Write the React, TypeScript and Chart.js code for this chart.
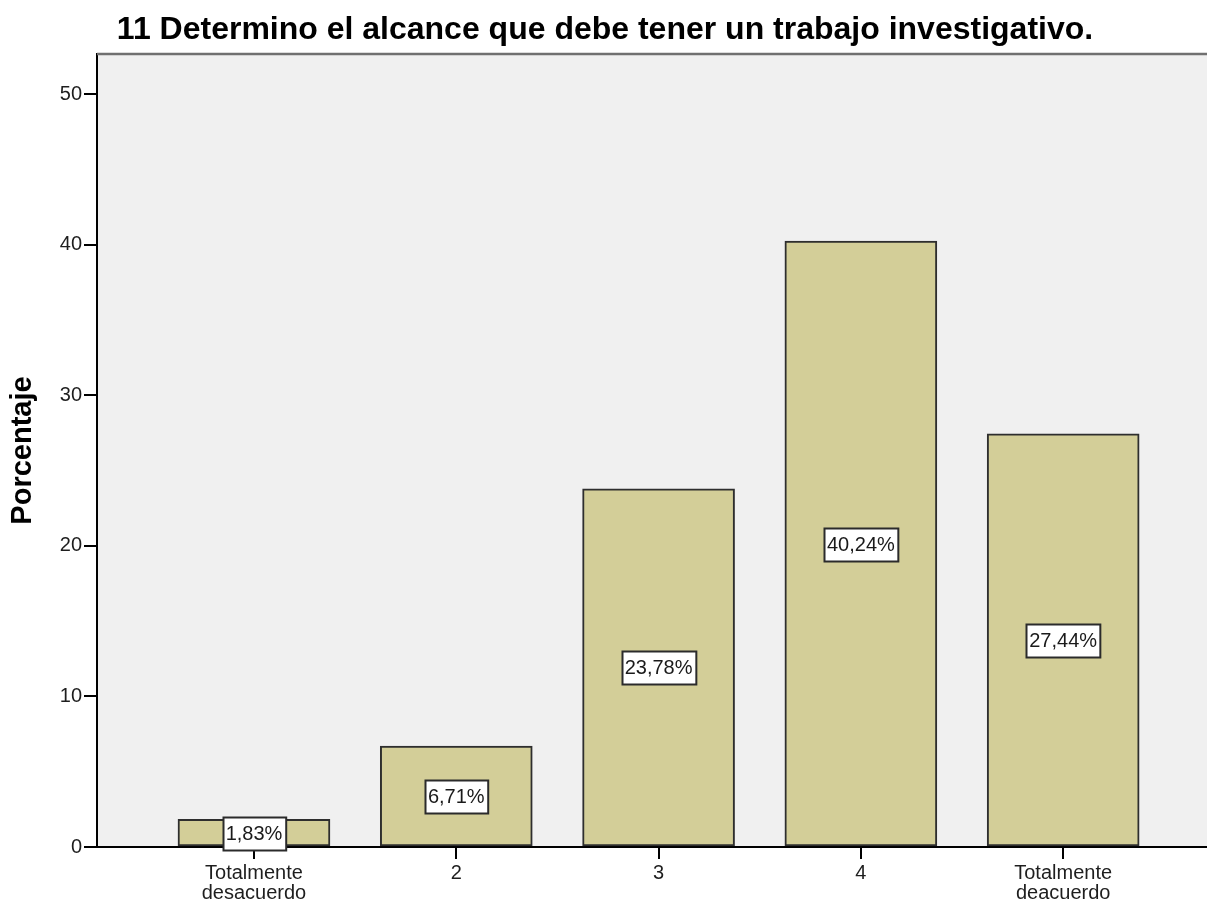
import React, { useEffect, useRef } from "react";
import { Chart, registerables } from "chart.js";

Chart.register(...registerables);

const titleText = "11 Determino el alcance que debe tener un trabajo investigativo.";
const yAxisTitle = "Porcentaje";
const categoryPositions = [1, 2, 3, 4, 5];
const categoryLabels: (string | string[])[] = [
  ["Totalmente", "desacuerdo"],
  "2",
  "3",
  "4",
  ["Totalmente", "deacuerdo"],
];
const percentValues = [1.83, 6.71, 23.78, 40.24, 27.44];
const valueLabels = ["1,83%", "6,71%", "23,78%", "40,24%", "27,44%"];
const yTicks = [0, 10, 20, 30, 40, 50];

const FONT = "'Liberation Sans', Arial, sans-serif";

const bgPlugin = {
  id: "bgPlugin",
  beforeDraw(chart: any) {
    const { ctx, chartArea } = chart;
    ctx.save();
    ctx.fillStyle = "#f0f0f0";
    ctx.fillRect(chartArea.left, chartArea.top, chartArea.right - chartArea.left, chartArea.bottom - chartArea.top);
    ctx.restore();
  },
  afterDraw(chart: any) {
    const { ctx, chartArea } = chart;
    ctx.save();
    // top border
    ctx.strokeStyle = "#707070";
    ctx.lineWidth = 2.5;
    ctx.beginPath();
    ctx.moveTo(chartArea.left, chartArea.top);
    ctx.lineTo(chartArea.right, chartArea.top);
    ctx.stroke();
    // title
    ctx.fillStyle = "#000";
    ctx.font = `bold 32px ${FONT}`;
    ctx.textAlign = "center";
    ctx.textBaseline = "alphabetic";
    ctx.fillText(titleText, 605, 39);
    // value labels
    const meta = chart.getDatasetMeta(0);
    const yScale = chart.scales.y;
    ctx.font = `20px ${FONT}`;
    meta.data.forEach((bar: any, i: number) => {
      const text = valueLabels[i];
      const cy = yScale.getPixelForValue(percentValues[i] / 2);
      const w = ctx.measureText(text).width + 6;
      const h = 33;
      const x0 = Math.round(bar.x - w / 2) + 0.5;
      const y0 = Math.round(cy - h / 2) + 0.5;
      ctx.fillStyle = "#ffffff";
      ctx.fillRect(x0, y0, w, h);
      ctx.strokeStyle = "#2b2b2b";
      ctx.lineWidth = 2;
      ctx.strokeRect(x0, y0, w, h);
      ctx.fillStyle = "#1a1a1a";
      ctx.textAlign = "center";
      ctx.textBaseline = "middle";
      ctx.fillText(text, bar.x, cy + 1);
    });
    ctx.restore();
  },
};

export default function App() {
  const canvasRef = useRef<HTMLCanvasElement | null>(null);

  useEffect(() => {
    document.body.style.margin = "0";
    const canvas = canvasRef.current;
    if (!canvas) return;
    const chart = new Chart(canvas, {
      type: "bar",
      data: {
        datasets: [
          {
            data: categoryPositions.map((x, i) => ({ x, y: percentValues[i] })),
            backgroundColor: "#d3ce98",
            borderColor: "#2e2e2e",
            borderWidth: 2,
            borderSkipped: false,
            barThickness: 152,
          },
        ],
      },
      options: {
        animation: false,
        responsive: true,
        maintainAspectRatio: false,
        layout: { padding: { left: 0, right: 0, top: 54, bottom: 0 } },
        plugins: {
          legend: { display: false },
          tooltip: { enabled: false },
          title: { display: false },
        },
        scales: {
          x: {
            type: "linear",
            min: 0.224,
            max: 5.711,
            offset: false,
            afterBuildTicks(scale: any) {
              scale.ticks = categoryPositions.map((v) => ({ value: v }));
            },
            afterFit(scale: any) {
              scale.height = 61;
            },
            border: { display: true, color: "#000", width: 2 },
            grid: { offset: false, drawOnChartArea: false, drawTicks: true, tickLength: 12, color: "#000", lineWidth: 2 },
            ticks: {
              autoSkip: false,
              maxRotation: 0,
              padding: 4,
              color: "#1e1e1e",
              font: { family: FONT, size: 20, lineHeight: 1.0 },
              callback: (value: any) => {
                const idx = categoryPositions.indexOf(Number(value));
                return idx >= 0 ? categoryLabels[idx] : "";
              },
            },
          },
          y: {
            type: "linear",
            min: 0,
            max: 52.66,
            afterBuildTicks(scale: any) {
              scale.ticks = yTicks.map((v) => ({ value: v }));
            },
            afterFit(scale: any) {
              scale.width = 97;
            },
            border: { display: true, color: "#000", width: 2 },
            grid: { drawOnChartArea: false, drawTicks: true, tickLength: 13, color: "#000", lineWidth: 2 },
            ticks: {
              padding: 2,
              color: "#1e1e1e",
              font: { family: FONT, size: 20 },
            },
            title: {
              display: true,
              text: yAxisTitle,
              color: "#000",
              font: { family: FONT, size: 29, weight: "bold" },
              padding: { top: 6, bottom: 0 },
            },
          },
        },
      },
      plugins: [bgPlugin],
    } as any);
    return () => chart.destroy();
  }, []);

  return (
    <div style={{ position: "relative", width: 1207, height: 908 }}>
      <canvas ref={canvasRef} />
    </div>
  );
}
